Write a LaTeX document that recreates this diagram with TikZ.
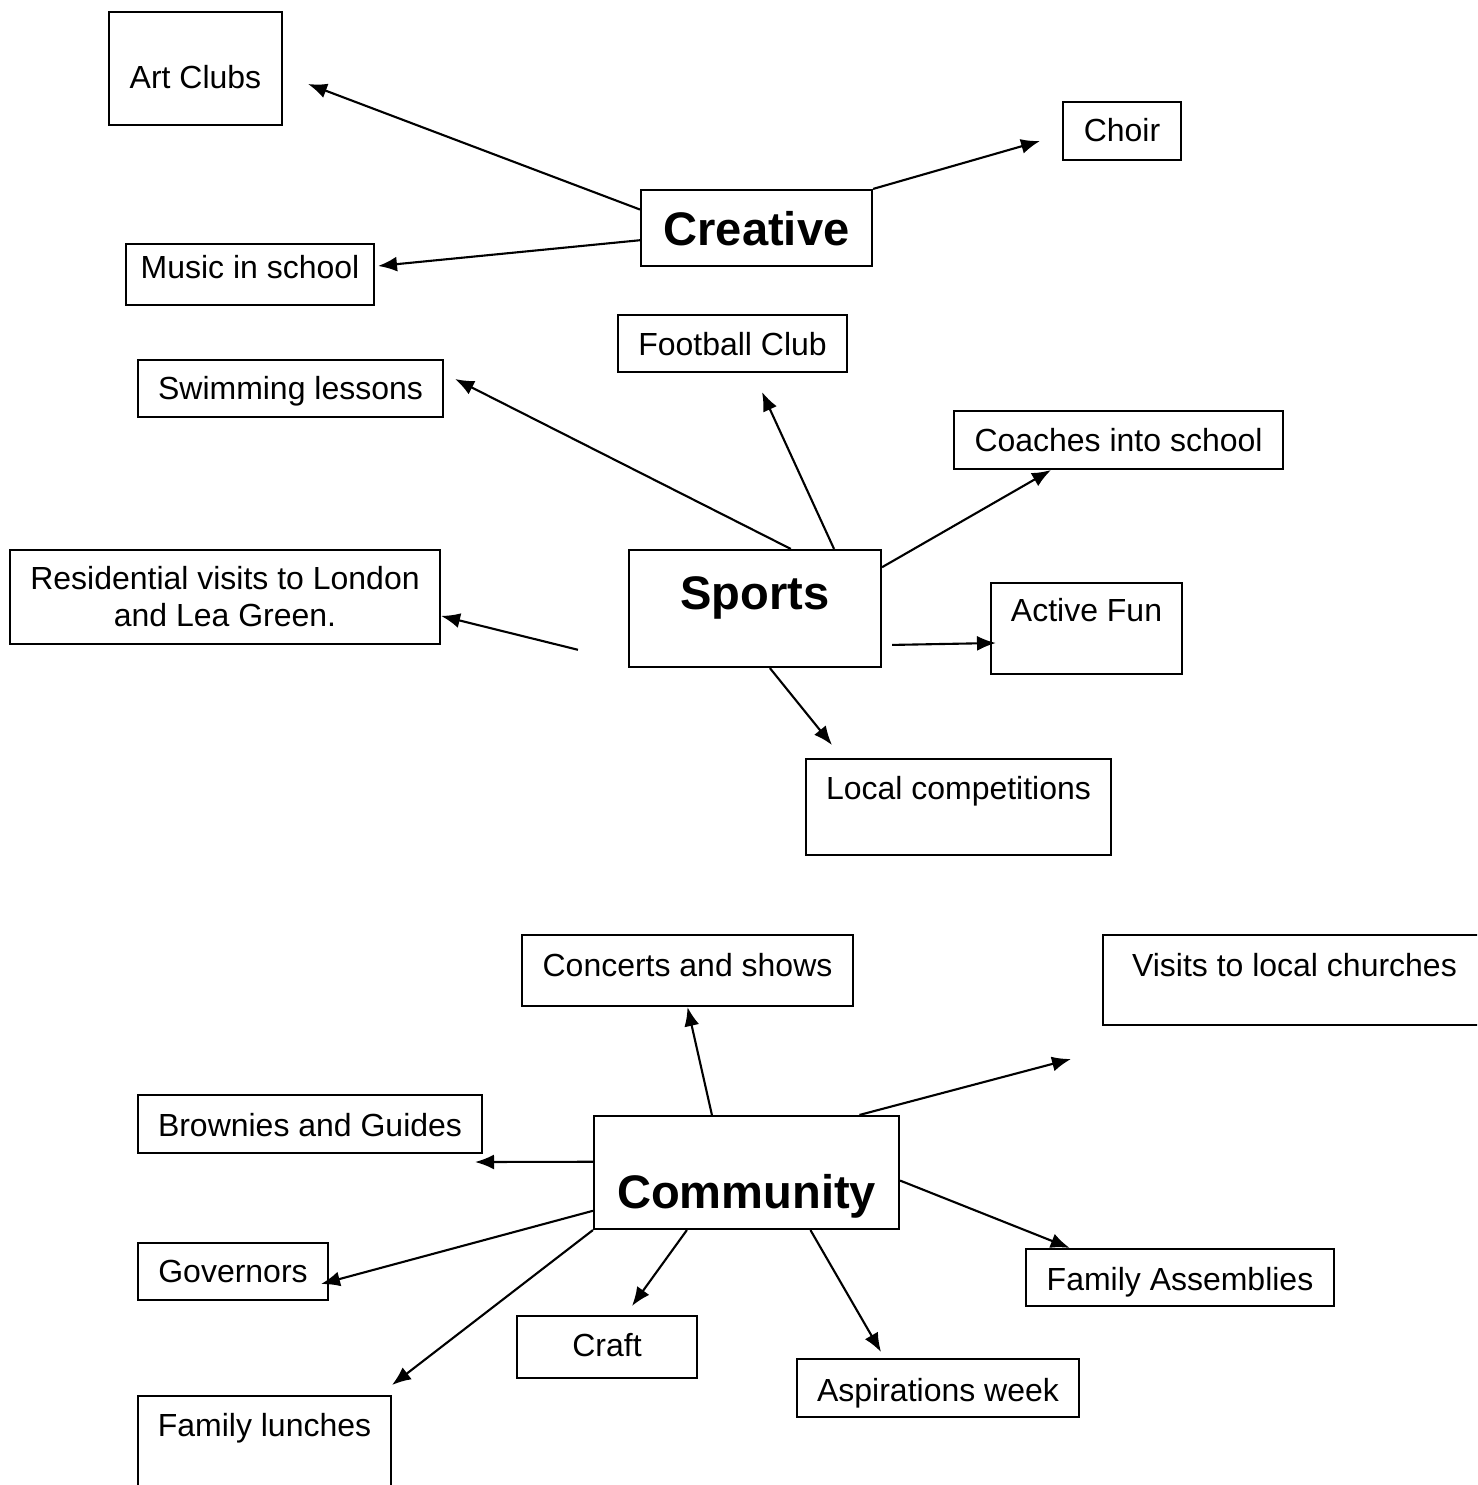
\documentclass[tikz,border=0pt]{standalone}
\usepackage{fontspec}
\setmainfont{Liberation Sans}
\usetikzlibrary{arrows.meta}

\tikzset{
  item/.style={draw, line width=0.6pt, inner sep=0pt, font=\fontsize{9.1}{10.5}\selectfont},
  hub/.style={item, font=\fontsize{13.4}{16}\selectfont\bfseries},
  arr/.style={-{Latex[length=0.19cm,width=0.15cm]}, line width=0.6pt}
}

\begin{document}
\begin{tikzpicture}
\path[use as bounding box] (0,0) rectangle (14.77,-14.85);
\clip (0,0) rectangle (14.77,-14.85);

% creative
\node[hub, minimum width=2.31cm, text height=0.56cm, text depth=0.20cm, anchor=base] (creative) at (7.565,-2.46) {Creative};
\node[item, minimum width=1.73cm, text height=0.77cm, text depth=0.36cm, anchor=base] (artclubs) at (1.955,-0.89) {Art Clubs};
\node[item, minimum width=1.18cm, text height=0.40cm, text depth=0.18cm, anchor=base] (choir) at (11.22,-1.42) {Choir};
\node[item, minimum width=2.48cm, text height=0.35cm, text depth=0.26cm, anchor=base] (music) at (2.50,-2.79) {Music in school};

\coordinate (tart) at (3.08,-0.84);
\coordinate (tchoir) at (10.40,-1.41);
\coordinate (tmusic) at (3.78,-2.66);

\draw[arr] (creative.171) -- (tart);
\draw[arr] (creative.north east) -- (tchoir);
\draw[arr] (creative.186) -- (tmusic);

% sports
\node[hub, minimum width=2.52cm, text height=0.60cm, text depth=0.57cm, anchor=base] (sports) at (7.55,-6.10) {Sports};
\node[item, minimum width=2.29cm, text height=0.41cm, text depth=0.16cm, anchor=base] (football) at (7.325,-3.56) {Football Club};
\node[item, minimum width=3.05cm, text height=0.40cm, text depth=0.17cm, anchor=base] (swim) at (2.905,-4.00) {Swimming lessons};
\node[item, minimum width=3.29cm, text height=0.41cm, text depth=0.17cm, anchor=base] (coaches) at (11.185,-4.52) {Coaches into school};
\node[item, align=center, minimum width=4.30cm, minimum height=0.94cm] (resid) at (2.25,-5.97) {Residential visits to London\\and Lea Green.};
\node[item, minimum width=1.91cm, text height=0.39cm, text depth=0.52cm, anchor=base] (active) at (10.865,-6.22) {Active Fun};
\node[item, minimum width=3.05cm, text height=0.41cm, text depth=0.55cm, anchor=base] (local) at (9.585,-8.00) {Local competitions};

\coordinate (tswim) at (4.55,-3.79);
\coordinate (tfoot) at (7.62,-3.92);
\coordinate (tactive) at (9.96,-6.43);
\coordinate (tlocal) at (8.32,-7.45);

\draw[arr] (sports.59) -- (tswim);
\draw[arr] (sports.37) -- (tfoot);
\draw[arr] (sports.18) -- (coaches.204);
\draw[arr] ([xshift=-0.5cm]sports.198) -- (resid.355);
\draw[arr] ([xshift=0.1cm]sports.-16) -- (tactive);
\draw[arr] (sports.284) -- (tlocal);

% community
\node[hub, minimum width=3.05cm, text height=0.92cm, text depth=0.21cm, anchor=base] (community) at (7.465,-12.08) {Community};
\node[item, minimum width=3.31cm, text height=0.41cm, text depth=0.30cm, anchor=base] (concerts) at (6.875,-9.76) {Concerts and shows};
\node[item, anchor=base west, text width=4.2cm, align=flush left, inner xsep=0.29cm, text height=0.41cm, text depth=0.49cm] (visits) at (11.02,-9.76) {Visits to local churches};
\node[item, minimum width=3.44cm, text height=0.41cm, text depth=0.17cm, anchor=base] (brownies) at (3.10,-11.36) {Brownies and Guides};
\node[item, minimum width=1.90cm, text height=0.39cm, text depth=0.18cm, anchor=base] (governors) at (2.33,-12.82) {Governors};
\node[item, minimum width=3.08cm, text height=0.41cm, text depth=0.16cm, anchor=base] (famassem) at (11.80,-12.90) {Family Assemblies};
\node[item, minimum width=1.80cm, text height=0.40cm, text depth=0.22cm, anchor=base] (craft) at (6.07,-13.56) {Craft};
\node[item, minimum width=2.82cm, text height=0.42cm, text depth=0.16cm, anchor=base] (aspire) at (9.38,-14.01) {Aspirations week};
\node[item, minimum width=2.53cm, text height=0.40cm, text depth=0.64cm, anchor=base] (lunches) at (2.645,-14.36) {Family lunches};

\coordinate (tvisits) at (10.71,-10.59);
\coordinate (tbrown) at (4.75,-11.62);
\coordinate (tgov) at (3.21,-12.84);
\coordinate (tlunch) at (3.92,-13.85);
\coordinate (tcraft) at (6.32,-13.06);
\coordinate (tasp) at (8.81,-13.52);

\draw[arr] (community.121) -- (concerts.south);
\draw[arr] (community.27) -- (tvisits);
\draw[arr] (community.176) -- (tbrown);
\draw[arr] (community.194) -- (tgov);
\draw[arr] (community.south west) -- (tlunch);
\draw[arr] (community.224) -- (tcraft);
\draw[arr] (community.318) -- (tasp);
\draw[arr] (community.357) -- (famassem.165);
\end{tikzpicture}
\end{document}
